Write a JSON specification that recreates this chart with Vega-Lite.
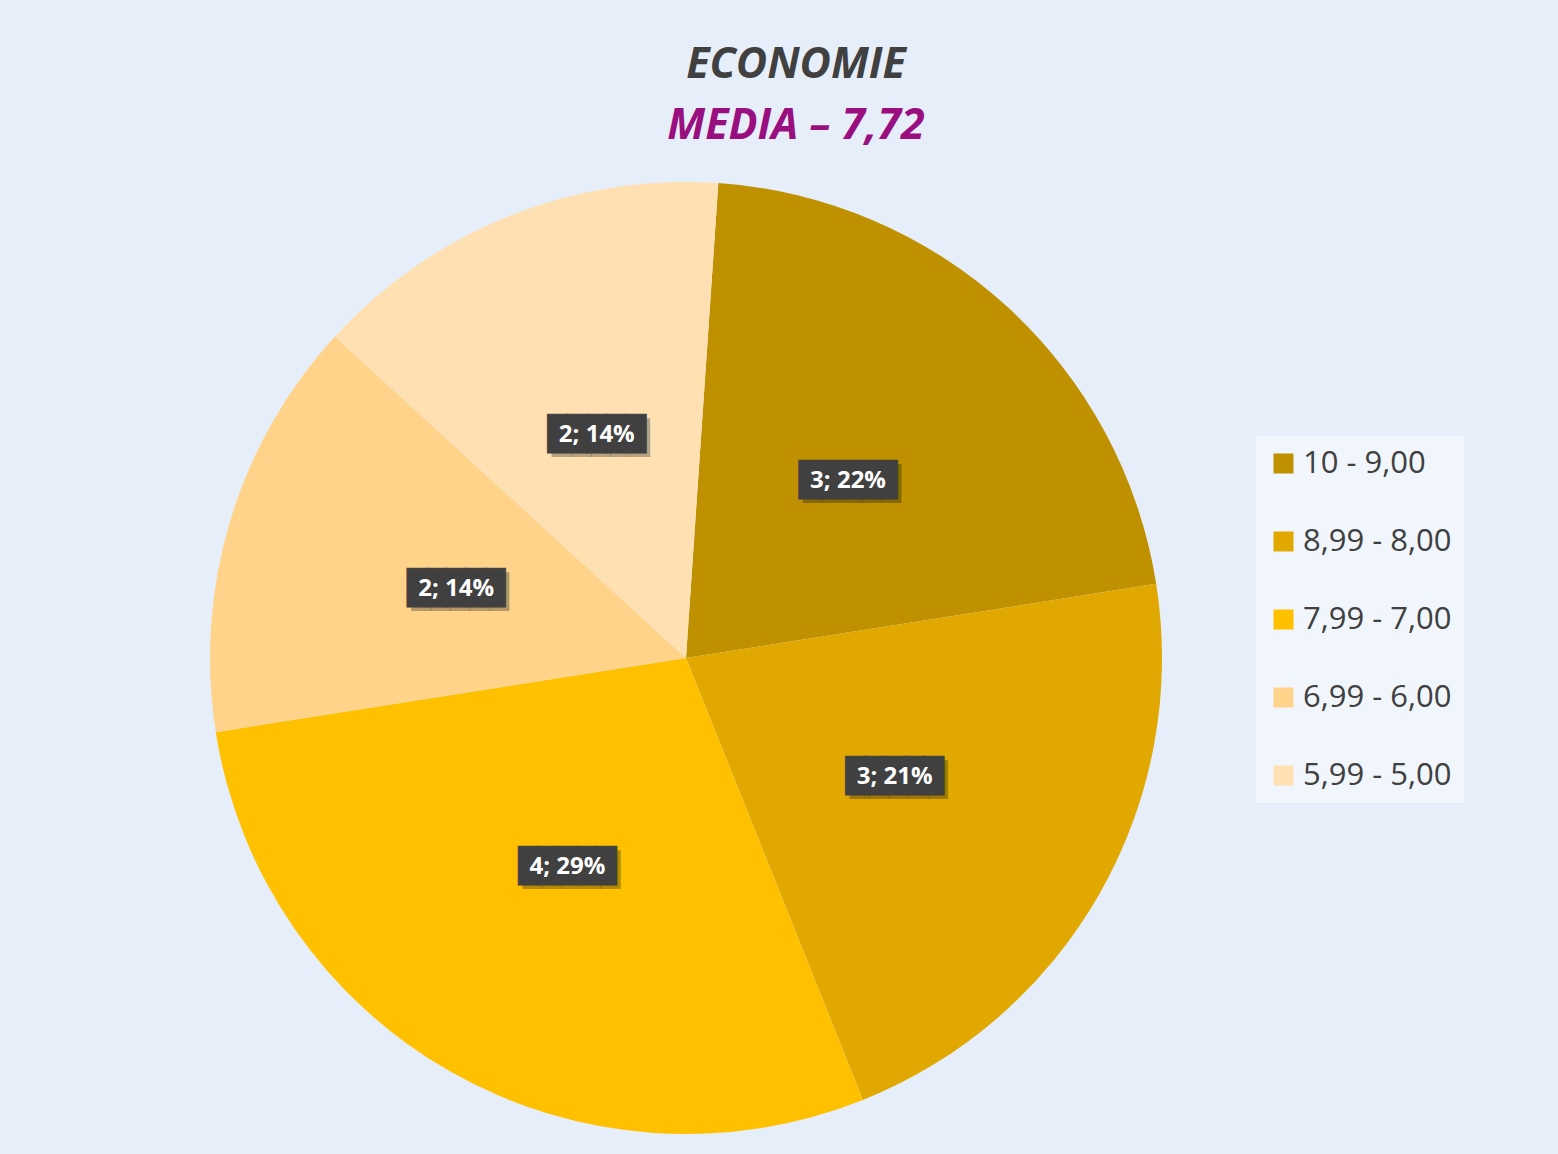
{
  "$schema": "https://vega.github.io/schema/vega-lite/v6.json",
  "autosize": {"type": "none"},
  "width": 1372,
  "height": 992,
  "padding": {"left": 0, "top": 162, "right": 186, "bottom": 0},
  "background": "#e6eef9",
  "view": {"stroke": null},
  "title": {
    "text": "ECONOMIE",
    "subtitle": "MEDIA – 7,72",
    "anchor": "middle",
    "dx": 110,
    "offset": 14,
    "font": "Open Sans",
    "fontSize": 43,
    "fontStyle": "italic",
    "fontWeight": "bold",
    "color": "#404040",
    "subtitleFont": "Open Sans",
    "subtitleFontSize": 43,
    "subtitleFontStyle": "italic",
    "subtitleFontWeight": "bold",
    "subtitleColor": "#990f80",
    "subtitlePadding": 18
  },
  "data": {
    "values": [
      {"order": 1, "range": "10 - 9,00", "count": 3, "label": "3; 22%"},
      {"order": 2, "range": "8,99 - 8,00", "count": 3, "label": "3; 21%"},
      {"order": 3, "range": "7,99 - 7,00", "count": 4, "label": "4; 29%"},
      {"order": 4, "range": "6,99 - 6,00", "count": 2, "label": "2; 14%"},
      {"order": 5, "range": "5,99 - 5,00", "count": 2, "label": "2; 14%"}
    ]
  },
  "encoding": {
    "theta": {"field": "count", "type": "quantitative", "stack": true, "scale": {"range": [0.068, 6.3512]}},
    "order": {"field": "order", "type": "quantitative", "sort": "ascending"}
  },
  "layer": [
    {
      "mark": {"type": "arc", "outerRadius": 476},
      "encoding": {
        "color": {
          "field": "range",
          "type": "nominal",
          "scale": {
            "domain": ["10 - 9,00", "8,99 - 8,00", "7,99 - 7,00", "6,99 - 6,00", "5,99 - 5,00"],
            "range": ["#bf9000", "#e0a800", "#ffc000", "#ffd38a", "#ffe0b2"]
          },
          "legend": {
            "title": null,
            "orient": "none",
            "legendX": 1256,
            "legendY": 274,
            "padding": 12,
            "fillColor": "rgba(255,255,255,0.45)",
            "symbolType": "square",
            "symbolSize": 400,
            "symbolStrokeWidth": 0,
            "labelFont": "Open Sans",
            "labelFontSize": 31,
            "labelColor": "#404040",
            "labelOffset": 4,
            "labelLimit": 300,
            "rowPadding": 46
          }
        }
      }
    },
    {
      "mark": {"type": "text", "radius": 240, "font": "DejaVu Sans Mono", "fontSize": 32.6, "color": "rgba(0,0,0,0.28)", "dx": 4, "dy": 4, "baseline": "middle", "align": "center"},
      "encoding": {"text": {"value": "█████"}}
    },
    {
      "mark": {"type": "text", "radius": 240, "font": "DejaVu Sans Mono", "fontSize": 32.6, "color": "#404040", "stroke": "#404040", "strokeWidth": 1, "baseline": "middle", "align": "center"},
      "encoding": {"text": {"value": "█████"}}
    },
    {
      "mark": {"type": "text", "radius": 240, "font": "Open Sans", "fontSize": 24, "fontWeight": "bold", "color": "#ffffff", "baseline": "middle", "align": "center"},
      "encoding": {"text": {"field": "label", "type": "nominal"}}
    }
  ]
}
